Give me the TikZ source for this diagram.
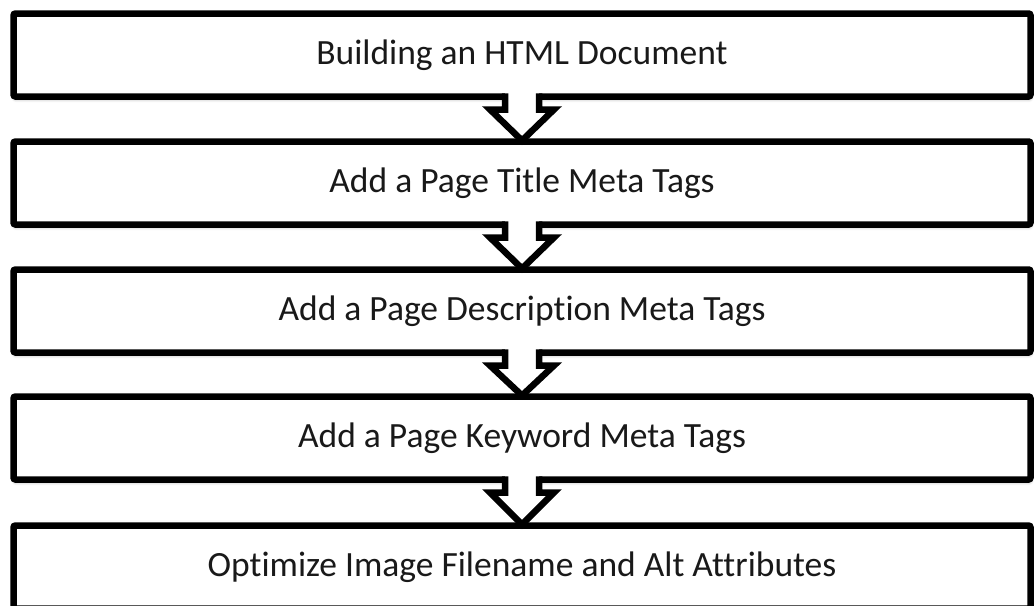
\documentclass[tikz,border=0pt]{standalone}
\usepackage{fontspec}
\setmainfont{Carlito}[Ligatures={NoCommon}]
\usetikzlibrary{calc,shadows.blur}

\tikzset{
  stepbox/.style={draw=black, line width=6.5pt, fill=white, rounded corners=2pt,
    minimum width=1017pt, minimum height=83pt, inner sep=0pt, outer sep=0pt,
    font=\fontsize{35.5}{40}\selectfont, text=black!90,
    blur shadow={shadow xshift=0.5pt, shadow yshift=-3pt, shadow opacity=30,
      shadow blur radius=3pt, shadow blur steps=6}},
  flowarrow/.style={draw=black, line width=6.5pt, line join=miter}
}

% block arrow from the bottom of box #1 to the top of box #2
\newcommand{\blockarrow}[2]{%
  \fill[white] ($(#1.south)+(-17pt,3.5pt)$) -- ($(#1.south)+(-17pt,-13pt)$)
    -- ($(#1.south)+(-32pt,-13pt)$) -- ($(#2.north)+(0,1pt)$)
    -- ($(#1.south)+(32pt,-13pt)$) -- ($(#1.south)+(17pt,-13pt)$)
    -- ($(#1.south)+(17pt,3.5pt)$) -- cycle;
  \draw[flowarrow] ($(#1.south)+(-17pt,3.25pt)$) -- ($(#1.south)+(-17pt,-13pt)$)
    -- ($(#1.south)+(-32pt,-13pt)$) -- ($(#2.north)+(0,1pt)$)
    -- ($(#1.south)+(32pt,-13pt)$) -- ($(#1.south)+(17pt,-13pt)$)
    -- ($(#1.south)+(17pt,3.25pt)$);
}

\begin{document}
\begin{tikzpicture}[x=1pt,y=1pt]
  \useasboundingbox (0,0) rectangle (1035,-605);
  \clip (0,0) rectangle (1035,-605);

  \node[stepbox] (s1) at (522,-55)  {Building an HTML Document};
  \node[stepbox] (s2) at (522,-183) {Add a Page Title Meta Tags};
  \node[stepbox] (s3) at (522,-311) {Add a Page Description Meta Tags};
  \node[stepbox] (s4) at (522,-438) {Add a Page Keyword Meta Tags};
  \node[stepbox] (s5) at (522,-567) {Optimize Image Filename and Alt Attributes};

  \blockarrow{s1}{s2}
  \blockarrow{s2}{s3}
  \blockarrow{s3}{s4}
  \blockarrow{s4}{s5}
\end{tikzpicture}
\end{document}
